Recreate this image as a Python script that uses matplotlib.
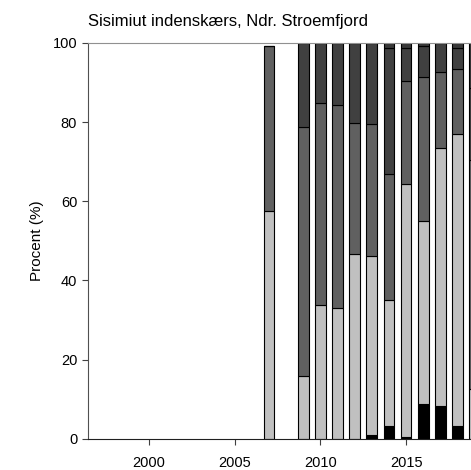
import numpy as np
import matplotlib
matplotlib.use('Agg')
import matplotlib.pyplot as plt

plt.rcParams['font.family'] = ['Liberation Sans', 'DejaVu Sans']

# stacked shares (%) per year, bottom to top
years = [2007, 2009, 2010, 2011, 2012, 2013, 2014, 2015, 2016, 2017, 2018, 2019]
black = [0.0, 0.0, 0.0, 0.0, 0.0, 0.9, 3.3, 0.6, 8.9, 8.2, 3.3, 0.0]
light = [57.5, 16.0, 33.9, 33.1, 46.7, 45.4, 31.8, 63.7, 46.2, 65.2, 73.6, 12.5]
mid = [41.7, 62.8, 51.0, 51.1, 33.1, 33.3, 31.9, 26.0, 36.3, 19.3, 16.4, 58.0]
dark = [0.0, 21.2, 15.1, 15.8, 20.2, 20.4, 31.8, 8.5, 7.8, 7.3, 5.5, 18.0]
top = [0.0, 0.0, 0.0, 0.0, 0.0, 0.0, 1.2, 1.2, 0.8, 0.0, 1.2, 11.5]

series = [black, light, mid, dark, top]
colors = ['#000000', '#c0c0c0', '#606060', '#404040', '#383838']

fig = plt.figure(figsize=(4.71, 4.70), dpi=100)
ax = fig.add_axes([0.1875, 0.066, 0.8457, 0.843])

bottom = np.zeros(len(years))
for vals, c in zip(series, colors):
    ax.bar(years, vals, width=0.63, bottom=bottom, color=c,
           edgecolor='black', linewidth=0.8)
    bottom = bottom + np.array(vals)

ax.set_xlim(1996.46, 2019.7)
ax.set_ylim(0, 100)
ax.set_xticks([2000, 2005, 2010, 2015])
ax.set_yticks([0, 20, 40, 60, 80, 100])

ax.spines['right'].set_visible(False)
ax.spines['top'].set_color('#909090')
ax.spines['left'].set_color('#505050')
ax.spines['bottom'].set_color('#202020')
for s in ax.spines.values():
    s.set_linewidth(0.8)

ax.tick_params(axis='both', direction='out', length=4, width=0.8,
               labelsize=10.5, color='#404040')
ax.tick_params(axis='x', pad=8.5)
ax.tick_params(axis='y', pad=4)

ax.set_ylabel('Procent (%)', fontsize=11, labelpad=6)
ax.set_title('Sisimiut indenskærs, Ndr. Stroemfjord', loc='left',
             fontsize=12, pad=12)

fig.savefig('out.png', dpi=100)
